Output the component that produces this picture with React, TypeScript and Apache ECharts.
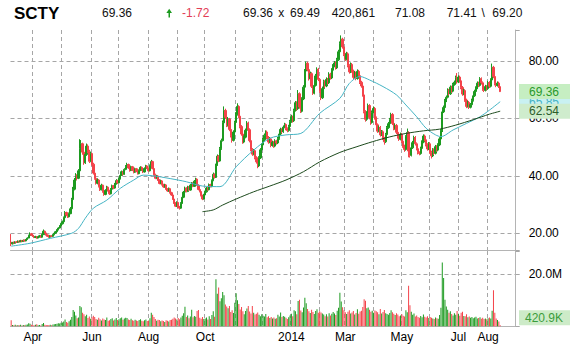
import React, { useEffect, useRef } from 'react';
import * as echarts from 'echarts';

// ---------- data ----------
const START_DATE = '2013-03-07';
const HOLIDAYS = ['2013-03-29', '2013-05-27', '2013-07-04', '2013-09-02', '2013-11-28', '2013-12-25',
  '2014-01-01', '2014-01-20', '2014-02-17', '2014-04-18', '2014-05-26', '2014-07-04'];
const CATEGORY_COUNT = 375; // trading days shown on the axis (incl. empty space at right)

// daily [open, high, low, close]
const ohlc: number[][] = [
  // Mar 2013
  [17.0,19.8,15.6,16.4],[16.4,17.1,16.2,16.8],[16.9,17.2,16.4,16.6],[16.6,17.3,16.5,17.0],[17.1,17.4,16.7,16.9],[16.9,17.6,16.8,17.3],
  [17.4,17.6,16.9,17.1],[17.1,17.8,17.0,17.5],[17.6,17.7,17.0,17.2],[17.2,17.9,17.1,17.6],[17.7,17.9,17.2,17.4],[17.4,18.1,17.3,17.9],
  [17.9,18.7,17.8,18.4],[18.4,19.6,18.3,19.3],[19.3,20.4,19.1,19.8],[19.9,20.2,19.1,19.4],
  // Apr
  [19.4,19.7,18.8,19.0],[19.0,19.3,18.4,18.6],[18.6,19.2,18.4,18.9],[18.9,19.1,18.2,18.4],[18.4,19.0,18.3,18.8],[18.8,19.5,18.6,19.2],
  [19.2,19.4,18.5,18.7],[18.7,19.9,18.6,19.6],[19.6,21.4,19.5,20.8],[20.8,21.0,20.0,20.2],[20.2,20.4,19.3,19.5],[19.5,19.7,18.8,19.0],
  [19.0,19.3,18.5,18.7],[18.7,19.5,18.6,19.2],[19.2,19.4,18.7,19.0],[19.0,19.8,18.9,19.6],[19.6,20.3,19.4,20.1],[20.1,20.9,19.9,20.6],
  [20.6,21.5,20.4,21.3],[21.3,22.2,21.1,21.9],[21.9,22.9,21.7,22.6],[22.6,23.7,22.3,23.4],
  // May
  [23.4,24.5,23.1,24.1],[24.1,25.9,23.9,25.5],[25.5,27.8,25.3,27.3],[27.3,27.6,26.0,26.4],[26.4,26.8,25.4,25.8],[25.8,27.3,25.6,26.9],
  [26.9,29.2,26.7,28.6],[28.6,32.4,28.4,31.8],[31.8,36.2,31.5,35.4],[35.4,39.3,35.0,38.6],[38.6,41.0,38.0,40.1],[40.1,40.6,38.5,39.2],
  [39.2,42.4,38.9,41.8],[41.8,52.8,41.5,49.6],[49.6,52.5,48.6,51.2],[51.2,51.6,47.4,48.3],[48.3,48.8,43.9,44.6],[44.6,48.2,44.2,47.5],
  [47.5,51.3,47.0,50.4],[50.4,51.0,47.9,48.6],[48.6,49.1,44.5,45.1],[45.1,48.5,44.8,47.8],
  // Jun
  [47.8,48.1,43.6,44.1],[44.1,44.6,40.5,41.0],[41.0,41.8,38.7,39.2],[39.2,39.8,37.0,37.5],[37.5,39.2,37.1,38.6],[38.6,38.9,36.0,36.4],
  [36.4,36.8,34.8,35.2],[35.2,37.3,35.0,36.8],[36.8,37.0,34.2,34.5],[34.5,35.0,33.1,33.6],[33.6,35.4,33.3,35.0],[35.0,36.6,34.7,36.1],
  [36.1,36.4,34.6,34.9],[34.9,35.2,33.4,33.8],[33.8,35.8,33.6,35.4],[35.4,37.0,35.1,36.6],[36.6,36.9,35.4,35.8],[35.8,37.6,35.6,37.2],
  [37.2,38.9,37.0,38.4],[38.4,38.7,37.2,37.6],
  // Jul
  [37.6,39.4,37.4,39.0],[39.0,40.6,38.8,40.2],[40.2,41.9,40.0,41.5],[41.5,41.8,40.2,40.6],[40.6,42.7,40.4,42.3],[42.3,43.8,42.0,43.4],
  [43.4,44.6,43.1,44.0],[44.0,44.3,42.5,42.8],[42.8,43.1,41.5,41.9],[41.9,43.6,41.7,43.2],[43.2,43.5,41.7,42.0],[42.0,42.3,40.9,41.3],
  [41.3,42.9,41.1,42.5],[42.5,42.8,41.3,41.6],[41.6,41.9,40.5,40.8],[40.8,42.3,40.6,41.9],[41.9,43.4,41.7,43.0],[43.0,43.3,41.9,42.2],
  [42.2,42.5,41.0,41.4],[41.4,43.0,41.2,42.6],[42.6,43.9,42.3,43.5],[43.5,43.8,42.4,42.7],
  // Aug
  [42.7,43.0,41.5,41.8],[41.8,44.0,41.6,43.6],[43.6,45.6,43.3,45.0],[45.0,45.3,42.3,42.6],[42.6,42.9,40.1,40.4],[40.4,40.8,38.9,39.2],
  [39.2,40.4,38.9,40.0],[40.0,40.3,38.3,38.6],[38.6,38.9,37.1,37.4],[37.4,38.7,37.1,38.3],[38.3,38.6,36.7,37.0],[37.0,37.3,35.9,36.2],
  [36.2,37.3,35.9,36.9],[36.9,37.2,35.2,35.5],[35.5,35.8,34.5,34.8],[34.8,36.0,34.5,35.6],[35.6,35.9,33.9,34.2],[34.2,34.5,33.1,33.4],
  [33.4,33.7,31.7,32.0],[32.0,32.3,30.3,30.6],[30.6,30.9,29.2,29.5],[29.5,31.2,29.2,30.8],
  // Sep
  [30.8,31.1,28.9,29.2],[29.2,29.6,28.3,28.8],[28.8,30.9,28.6,30.5],[30.5,33.0,30.3,32.6],[32.6,34.8,32.3,34.4],[34.4,36.3,34.1,35.8],
  [35.8,36.1,34.3,34.6],[34.6,36.6,34.4,36.2],[36.2,36.5,34.8,35.1],[35.1,37.2,34.9,36.8],[36.8,37.9,36.5,37.5],[37.5,37.8,36.1,36.4],
  [36.4,38.6,36.2,38.2],[38.2,39.4,37.9,38.9],[38.9,39.2,36.5,36.8],[36.8,37.1,35.0,35.3],[35.3,35.6,34.3,34.6],[34.6,34.9,32.9,33.2],
  [33.2,33.5,31.6,32.0],[32.0,33.8,31.8,33.4],
  // Oct
  [33.4,34.9,33.1,34.5],[34.5,36.2,34.2,35.8],[35.8,36.1,34.9,35.2],[35.2,37.4,35.0,37.0],[37.0,37.3,36.0,36.3],[36.3,38.8,36.1,38.4],
  [38.4,41.2,38.2,40.6],[40.6,40.9,39.1,39.5],[39.5,44.3,39.3,43.8],[43.8,47.5,43.5,46.9],[46.9,47.3,44.8,45.2],[45.2,50.1,45.0,49.5],
  [49.5,53.0,49.1,52.3],[52.3,59.3,52.0,58.5],[58.5,64.2,58.1,62.8],[62.8,63.4,59.8,60.4],[60.4,61.0,57.0,57.6],[57.6,60.5,57.2,59.8],
  [59.8,60.2,55.6,56.2],[56.2,56.7,53.4,54.0],[54.0,54.5,51.6,52.4],[52.4,55.9,52.0,55.3],[55.3,59.2,55.0,58.6],
  // Nov
  [58.6,62.2,58.2,61.5],[61.5,65.3,61.0,64.2],[64.2,64.6,60.2,60.8],[60.8,61.3,56.6,57.2],[57.2,57.7,54.0,54.6],[54.6,55.1,51.2,51.8],
  [51.8,54.1,51.4,53.5],[53.5,56.5,53.1,55.9],[55.9,59.1,55.5,58.4],[58.4,58.9,55.5,56.1],[56.1,56.6,51.7,52.3],[52.3,52.8,48.6,49.2],
  [49.2,49.7,47.0,47.6],[47.6,49.4,47.2,48.8],[48.8,49.2,45.8,46.4],[46.4,46.9,44.3,44.9],[44.9,45.3,42.7,43.5],[43.5,46.9,43.1,46.3],
  [46.3,49.7,45.9,49.1],[49.1,51.4,48.7,50.8],
  // Dec
  [50.8,53.2,50.4,52.6],[52.6,54.8,52.2,54.2],[54.2,55.9,53.8,55.3],[55.3,55.8,52.8,53.4],[53.4,53.9,51.2,51.8],[51.8,53.5,51.4,52.9],
  [52.9,53.3,50.0,50.6],[50.6,52.3,50.2,51.7],[51.7,52.1,49.8,50.4],[50.4,52.8,50.0,52.2],[52.2,52.6,50.9,51.5],[51.5,53.6,51.1,53.0],
  [53.0,55.2,52.6,54.6],[54.6,56.8,54.2,56.2],[56.2,56.6,54.8,55.4],[55.4,57.6,55.0,57.0],[57.0,58.5,56.6,57.9],[57.9,58.3,55.9,56.5],
  [56.5,56.9,55.2,55.8],[55.8,57.8,55.4,57.2],[57.2,59.5,56.8,58.9],
  // Jan 2014
  [58.9,61.3,58.5,60.6],[60.6,61.0,58.6,59.2],[59.2,63.4,58.8,62.8],[62.8,66.1,62.4,65.5],[65.5,66.0,62.8,63.4],[63.4,69.9,63.0,68.6],
  [68.6,69.1,63.4,64.0],[64.0,64.5,61.9,62.5],[62.5,67.4,62.1,66.8],[66.8,71.6,66.4,70.9],[70.9,77.2,70.5,76.5],[76.5,79.8,76.0,79.2],
  [79.2,79.7,76.4,77.0],[77.0,77.5,73.2,73.8],[73.8,76.3,73.4,75.6],[75.6,76.1,70.6,71.2],[71.2,71.7,68.2,68.8],[68.8,72.2,68.4,71.5],
  [71.5,75.5,71.1,74.8],[74.8,77.8,74.4,77.1],[77.1,77.6,73.0,73.6],
  // Feb
  [73.6,74.1,68.9,69.5],[69.5,70.0,66.4,67.2],[67.2,71.1,66.8,70.4],[70.4,73.5,70.0,72.8],[72.8,73.3,70.7,71.3],[71.3,74.3,70.9,73.6],
  [73.6,74.1,71.8,72.4],[72.4,76.1,72.0,75.4],[75.4,75.9,73.5,74.1],[74.1,77.5,73.7,76.8],[76.8,78.9,76.4,78.2],[78.2,80.0,77.8,79.3],
  [79.3,79.8,77.0,77.6],[77.6,81.1,77.2,80.4],[80.4,83.9,80.0,83.2],[83.2,86.8,82.8,86.1],[86.1,88.9,85.6,87.6],[87.6,88.1,84.3,84.9],
  [84.9,85.4,81.7,82.3],
  // Mar
  [82.3,82.8,80.0,80.6],[80.6,83.2,80.2,82.5],[82.5,83.0,77.8,78.4],[78.4,78.9,75.6,76.2],[76.2,79.5,75.8,78.8],[78.8,79.3,75.9,76.5],
  [76.5,77.0,73.7,74.3],[74.3,76.5,73.9,75.8],[75.8,76.3,73.3,73.9],[73.9,77.1,73.5,76.4],[76.4,76.9,74.3,74.9],[74.9,75.4,72.0,72.6],
  [72.6,73.1,70.7,71.3],[71.3,71.8,67.6,68.2],[68.2,68.7,61.8,62.4],[62.4,62.9,58.9,59.7],[59.7,62.5,59.2,61.8],[61.8,65.2,61.4,64.5],
  [64.5,65.0,59.7,60.3],[60.3,60.8,57.8,58.6],[58.6,62.8,58.2,62.1],
  // Apr
  [62.1,64.2,61.7,63.5],[63.5,64.0,59.6,60.2],[60.2,60.7,57.2,57.8],[57.8,58.3,55.0,55.6],[55.6,57.5,55.2,56.9],[56.9,57.4,53.7,54.3],
  [54.3,56.0,53.9,55.4],[55.4,55.9,52.5,53.1],[53.1,53.6,50.9,51.9],[51.9,55.0,51.5,54.4],[54.4,57.4,54.0,56.8],[56.8,58.8,56.4,58.2],
  [58.2,60.2,57.8,59.6],[59.6,62.0,59.2,61.4],[61.4,61.9,57.7,58.3],[58.3,58.8,55.9,56.5],[56.5,58.2,56.1,57.6],[57.6,58.1,54.6,55.2],
  [55.2,55.7,53.0,53.6],[53.6,54.1,52.2,52.8],[52.8,55.1,52.4,54.5],
  // May
  [54.5,55.0,51.5,52.1],[52.1,52.6,49.8,50.4],[50.4,50.9,48.4,49.2],[49.2,54.2,48.8,53.6],[53.6,56.5,53.2,55.1],[55.1,55.6,46.5,48.7],
  [48.7,49.2,46.4,47.2],[47.2,50.4,46.8,49.8],[49.8,52.2,49.4,51.6],[51.6,54.0,51.2,53.4],[53.4,53.9,50.6,51.2],[51.2,51.7,48.9,49.5],
  [49.5,50.0,47.5,48.1],[48.1,48.6,47.2,47.8],[47.8,50.2,47.4,49.6],[49.6,52.4,49.2,51.8],[51.8,54.5,51.4,53.9],[53.9,54.4,52.0,52.6],
  [52.6,53.1,50.3,50.9],[50.9,51.4,48.8,49.4],[49.4,51.8,49.0,51.2],
  // Jun
  [51.2,51.7,47.7,48.3],[48.3,48.8,46.1,47.0],[47.0,49.7,46.6,49.1],[49.1,49.6,47.3,47.9],[47.9,50.8,47.5,50.2],[50.2,50.7,48.4,49.0],
  [49.0,51.4,48.6,50.8],[50.8,53.5,50.4,52.9],[52.9,56.3,52.5,55.7],[55.7,63.0,55.3,62.3],[62.3,64.5,61.9,63.8],[63.8,66.8,63.4,66.1],
  [66.1,68.0,65.7,67.4],[67.4,70.5,67.0,69.8],[69.8,70.3,68.0,68.6],[68.6,71.5,68.2,70.9],[70.9,71.4,68.9,69.5],[69.5,72.4,69.1,71.8],
  [71.8,73.2,71.4,72.6],[72.6,74.9,72.2,74.2],[74.2,75.8,72.1,72.7],
  // Jul
  [72.7,75.0,72.3,74.4],[74.4,74.9,72.5,73.1],[73.1,73.6,70.2,70.8],[70.8,71.3,67.9,68.5],[68.5,70.3,68.1,69.7],[69.7,70.2,65.8,66.4],
  [66.4,66.9,63.6,64.2],[64.2,66.2,63.8,65.6],[65.6,66.1,63.3,63.9],[63.9,65.4,63.5,64.8],[64.8,66.9,64.4,66.3],[66.3,68.5,65.9,67.9],
  [67.9,70.0,67.5,69.4],[69.4,71.2,69.0,70.6],[70.6,72.9,70.2,72.3],[72.3,72.8,70.9,71.5],[71.5,74.4,71.1,73.8],[73.8,74.3,71.8,72.4],
  [72.4,72.9,69.6,70.2],[70.2,70.7,69.2,69.8],[69.8,71.7,69.4,71.1],[71.1,71.6,69.8,70.4],
  // Aug
  [70.4,73.1,70.0,72.5],[72.5,73.0,70.6,71.2],[71.2,74.0,70.8,73.4],[73.4,79.1,73.0,77.8],[77.8,78.3,74.0,74.6],[74.6,75.1,71.5,72.1],
  [72.1,72.6,70.9,71.5],[71.5,72.9,71.1,72.3],[72.3,72.8,70.6,71.08],[71.08,71.41,69.20,69.36],
];

// daily volume, millions
const volume: number[] = [
  2.3,0.5,0.4,0.6,0.3,0.5,0.4,0.6,0.3,0.5,0.4,0.6,0.7,1.2,1.0,0.6,
  0.5,0.4,0.6,0.8,0.4,0.5,0.3,0.9,1.3,0.6,0.5,0.4,0.5,0.6,0.4,0.7,0.8,0.9,1.0,1.2,1.1,1.4,
  1.5,1.8,2.6,1.7,1.4,1.9,2.5,3.6,6.3,5.6,4.2,3.1,3.4,7.8,7.3,5.2,4.6,3.9,4.4,3.2,3.8,2.9,
  3.5,4.1,3.6,2.8,2.5,3.3,2.7,2.2,3.0,2.6,2.4,3.4,2.1,2.3,2.8,3.1,2.2,2.6,3.2,2.4,
  2.7,3.1,3.4,2.5,3.0,3.3,3.2,2.6,2.4,2.9,2.3,2.1,2.5,2.2,2.0,2.4,2.7,2.1,1.9,2.3,2.6,2.0,
  2.2,3.1,5.2,4.4,3.6,2.8,2.1,2.5,2.4,1.9,2.2,2.0,1.7,2.3,2.1,1.8,2.4,2.5,2.9,3.4,3.0,2.6,
  3.2,2.7,3.4,4.1,5.0,7.5,3.6,4.2,3.1,3.8,6.4,3.5,4.0,3.7,5.9,6.3,3.3,2.9,3.6,2.8,
  3.0,3.4,2.6,3.9,2.8,4.3,5.8,3.7,18.1,12.5,14.9,9.6,10.8,13.2,11.9,8.4,7.6,6.9,7.8,5.5,6.2,5.1,9.1,
  12.7,10.0,8.6,6.5,7.4,5.8,4.6,5.9,6.8,7.8,5.7,4.9,7.8,5.2,4.5,4.8,5.3,4.4,3.9,4.6,
  4.1,3.8,4.7,3.5,3.9,3.2,3.6,3.0,3.4,2.9,3.1,4.4,3.8,5.3,3.6,4.0,3.7,3.3,2.8,3.5,4.2,
  4.8,3.9,6.2,5.8,4.6,9.7,10.2,6.1,5.4,7.2,11.0,8.9,6.7,5.8,5.1,6.4,5.5,4.7,5.9,6.6,5.2,
  5.8,5.3,4.9,4.5,3.9,4.6,3.8,5.0,4.2,4.8,5.5,4.9,4.3,6.0,7.1,12.9,9.5,7.3,6.2,
  5.4,4.7,5.6,6.2,4.9,5.3,5.9,4.5,5.1,6.6,4.8,5.7,6.0,7.4,10.4,9.8,6.9,7.2,6.4,5.6,6.0,
  5.2,6.1,5.8,5.4,4.6,6.7,4.9,5.5,6.3,5.0,4.7,4.4,5.1,6.2,5.4,4.8,4.3,5.0,4.5,3.9,4.2,
  4.6,4.1,3.8,6.2,5.4,15.6,8.1,5.6,4.4,4.9,3.8,4.2,3.6,3.3,4.0,3.5,4.5,3.7,3.4,3.9,3.2,
  3.6,3.3,3.0,2.8,3.4,3.1,2.9,4.3,7.1,24.5,18.6,10.2,7.6,6.4,5.2,5.8,4.7,4.2,5.0,4.4,5.9,
  4.8,4.1,5.2,5.6,4.0,3.9,4.6,3.5,3.8,3.3,3.6,3.1,3.4,3.7,3.0,3.2,3.5,2.9,3.3,2.8,3.0,2.7,
  3.1,3.4,3.0,6.0,13.9,5.2,3.0,2.4,1.8,0.4209,
];

// moving averages: [trading-day index, value]
const ma50: number[][] = [
  [0,15.6],[14,16.6],[29,18.3],[45,20.1],[50,21.8],[55,25.3],[61,28.8],[71,31.6],[81,35.7],[91,38.6],
  [98,40.3],[105,40.1],[118,39.1],[130,38.0],[142,36.5],[155,36.3],[167,43.2],[180,49.0],[192,53.1],
  [204,54.3],[215,54.8],[229,61.8],[244,67.0],[251,72.2],[259,74.6],[266,73.4],[276,71.1],[286,68.2],
  [293,64.7],[301,60.6],[308,56.6],[315,54.3],[319,53.7],[328,56.0],[338,58.3],[348,60.6],[355,62.9],[363,65.85],
];
const ma200: number[][] = [
  [142,27.6],[150,28.2],[157,29.9],[167,32.0],[180,34.5],[192,36.5],[204,38.6],[217,41.5],[229,44.9],
  [244,48.2],[256,50.1],[268,51.9],[281,53.6],[293,54.8],[306,55.7],[318,56.3],[330,57.7],[343,59.6],
  [355,61.5],[363,62.54],
];

const MONTH_LABELS: Record<string, string> = {
  '2013-04': 'Apr', '2013-06': 'Jun', '2013-08': 'Aug', '2013-10': 'Oct',
  '2014-01': '2014', '2014-03': 'Mar', '2014-05': 'May', '2014-07': 'Jul', '2014-08': 'Aug',
};

const SYMBOL = 'SCTY';
const LAST = '69.36';
const CHANGE = '-1.72';
const BID = '69.36';
const ASK = '69.49';
const VOL_TEXT = '420,861';
const OPEN_TEXT = '71.08';
const HIGH_TEXT = '71.41';
const LOW_TEXT = '69.20';
const MA50_LABEL = '65.85';
const MA200_LABEL = '62.54';
const VOL_LABEL = '420.9K';

// ---------- styles ----------
const GREEN = '#1c9a1f';
const RED = '#f4434a';
const CYAN = '#45b4c4';
const DARK = '#1d4a1d';
const GRID = '#a6a6a6';
const FONT = 'Arial, "Liberation Sans", sans-serif';

function tradingDays(start: string, n: number, holidays: string[]): string[] {
  const out: string[] = [];
  const d = new Date(start + 'T00:00:00Z');
  while (out.length < n) {
    const dow = d.getUTCDay();
    const s = d.toISOString().slice(0, 10);
    if (dow !== 0 && dow !== 6 && holidays.indexOf(s) < 0) out.push(s);
    d.setUTCDate(d.getUTCDate() + 1);
  }
  return out;
}

export default function App() {
  const ref = useRef<HTMLDivElement>(null);

  useEffect(() => {
    if (!ref.current) return;
    const chart = echarts.init(ref.current, undefined, { renderer: 'svg' });

    const dates = tradingDays(START_DATE, CATEGORY_COUNT, HOLIDAYS);
    const isMonthStart = (i: number) => i > 0 && dates[i].slice(0, 7) !== dates[i - 1].slice(0, 7);
    const candleData = ohlc.map(([o, h, l, c]) => [o, c, l, h]);
    const volData = volume.map((v, i) => ({
      value: v,
      itemStyle: { color: ohlc[i][3] >= ohlc[i][0] ? GREEN : RED },
    }));

    const splitLine = {
      show: true,
      interval: (i: number) => isMonthStart(i),
      lineStyle: { color: GRID, type: [4, 3] as any, width: 1 },
    };

    const left = 10.5;
    const right = 54.3;

    chart.setOption({
      animation: false,
      backgroundColor: '#ffffff',
      grid: [
        { left, right, top: 30, height: 220 },
        { left, right, top: 251, height: 75.3 },
      ],
      xAxis: [
        {
          type: 'category', gridIndex: 0, data: dates, boundaryGap: true,
          axisLine: { show: true, lineStyle: { color: '#b4b4b4' } },
          axisTick: { show: false }, axisLabel: { show: false },
          splitLine,
        },
        {
          type: 'category', gridIndex: 1, data: dates, boundaryGap: true,
          axisLine: { show: true, lineStyle: { color: '#b4b4b4' } },
          axisTick: { show: false },
          axisLabel: {
            show: true,
            interval: (i: number, v: string) => isMonthStart(i) && MONTH_LABELS[v.slice(0, 7)] !== undefined,
            formatter: (v: string) => MONTH_LABELS[v.slice(0, 7)] || '',
            color: '#000', fontSize: 12, fontFamily: FONT, margin: 5,
          },
          splitLine,
        },
      ],
      yAxis: [
        {
          type: 'value', gridIndex: 0, position: 'right', min: 14.26, max: 90.78, splitNumber: 4,
          axisLine: { show: true, lineStyle: { color: '#b4b4b4' } },
          axisTick: { show: true, length: 4, inside: false, lineStyle: { color: GRID } },
          axisLabel: {
            color: '#000', fontSize: 12, fontFamily: FONT, margin: 13,
            formatter: (v: number) => (Math.abs(v / 20 - Math.round(v / 20)) < 1e-6 ? v.toFixed(2) : ''),
          },
          splitLine: { show: true, showMinLine: false, showMaxLine: false, lineStyle: { color: GRID, type: [4, 3] as any } },
        },
        {
          type: 'value', gridIndex: 1, position: 'right', min: 0, max: 28.96, interval: 20,
          axisLine: { show: true, lineStyle: { color: '#b4b4b4' } },
          axisTick: { show: true, length: 4, lineStyle: { color: GRID } },
          axisLabel: {
            color: '#000', fontSize: 12, fontFamily: FONT, margin: 13,
            formatter: (v: number) => (v === 20 ? '20.0M' : ''),
          },
          splitLine: { show: true, showMinLine: false, showMaxLine: false, lineStyle: { color: GRID, type: [4, 3] as any } },
        },
      ],
      series: [
        {
          type: 'candlestick', xAxisIndex: 0, yAxisIndex: 0, data: candleData, barWidth: 1.8,
          itemStyle: { color: GREEN, color0: RED, borderColor: GREEN, borderColor0: RED, borderWidth: 1 },
        },
        {
          type: 'line', xAxisIndex: 0, yAxisIndex: 0, data: ma50, showSymbol: false, smooth: 0.3,
          lineStyle: { color: CYAN, width: 1 }, z: 3,
        },
        {
          type: 'line', xAxisIndex: 0, yAxisIndex: 0, data: ma200, showSymbol: false, smooth: 0.3,
          lineStyle: { color: DARK, width: 1 }, z: 3,
        },
        {
          type: 'bar', xAxisIndex: 1, yAxisIndex: 1, data: volData, barWidth: 1,
        },
      ],
    });

    const yP = (v: number) => chart.convertToPixel({ yAxisIndex: 0 } as any, v) as number;
    const yV = (v: number) => chart.convertToPixel({ yAxisIndex: 1 } as any, v) as number;
    const lastClose = ohlc[ohlc.length - 1][3];
    const lastVol = volume[volume.length - 1];
    const box = (yc: number, text: string, bg: string, fg: string, z: number) => ({
      type: 'group', z,
      children: [
        { type: 'rect', shape: { x: 519, y: yc - 7.5, width: 51, height: 15 }, style: { fill: bg }, z },
        { type: 'text', x: 544, y: yc, style: { text, fill: fg, font: `12px ${FONT}`, align: 'center', verticalAlign: 'middle' }, z: z + 1 },
      ],
    });
    const hText = (x: number, text: string, fill = '#111', font = `12px ${FONT}`) => ({
      type: 'text', x, y: 13.3, style: { text, fill, font, verticalAlign: 'middle' }, z: 50,
    });
    const volBottom = yV(0);

    chart.setOption({
      graphic: [
        hText(14, SYMBOL, '#000', `bold 17px ${FONT}`),
        hText(102, LAST),
        { type: 'polygon', shape: { points: [[166.4, 13], [169.2, 8.8], [172, 13]] }, style: { fill: GREEN }, z: 50 },
        { type: 'rect', shape: { x: 168.5, y: 12, width: 1.5, height: 5.5 }, style: { fill: GREEN }, z: 50 },
        hText(182, CHANGE, '#e23d55'),
        hText(243, BID),
        hText(278.3, 'x'),
        hText(290, ASK),
        hText(331.7, VOL_TEXT),
        hText(395, OPEN_TEXT),
        hText(446.7, HIGH_TEXT),
        hText(481.6, '\\'),
        hText(492.3, LOW_TEXT),
        box(yP(parseFloat(MA50_LABEL)), MA50_LABEL, '#c9f1f2', CYAN, 60),
        box(yP(lastClose), lastClose.toFixed(2), '#c6eec2', '#2a9a2c', 62),
        box(yP(parseFloat(MA200_LABEL)), MA200_LABEL, '#cfeccd', '#2c5e2c', 62),
        box(Math.min(yV(lastVol), volBottom - 8.5), VOL_LABEL, '#cdebc8', '#3b9c3b', 62),
      ],
    });

    return () => chart.dispose();
  }, []);

  return (
    <div
      ref={ref}
      style={{ position: 'absolute', left: 0, top: 0, width: 570, height: 351, background: '#fff' }}
    />
  );
}
